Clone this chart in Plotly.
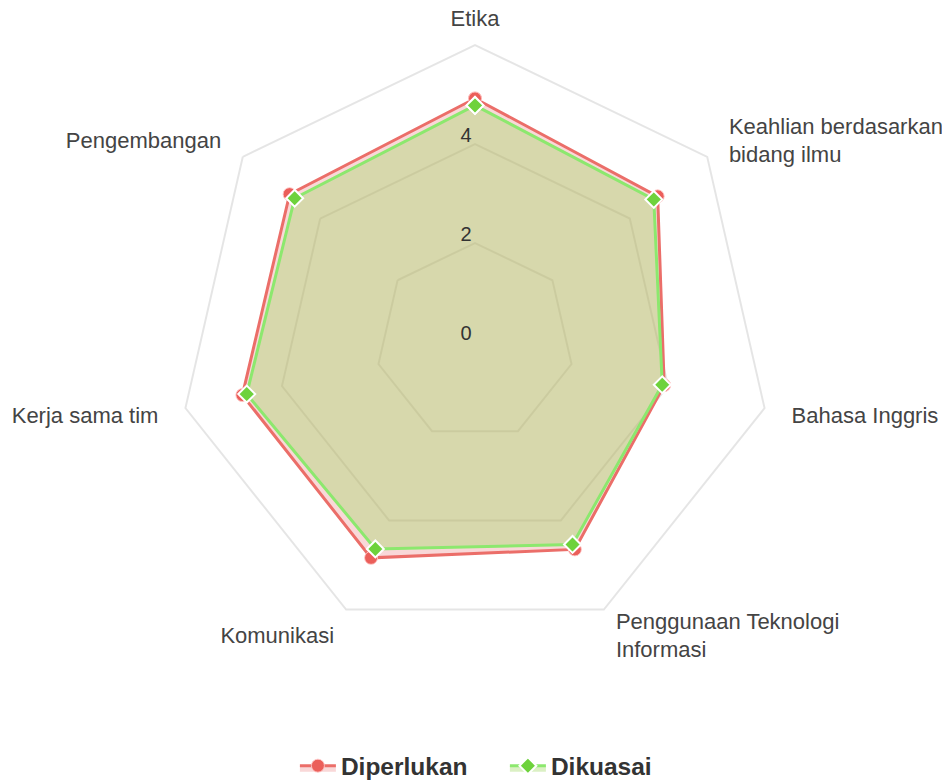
import plotly.graph_objects as go

categories = ["Etika", "Keahlian berdasarkan<br>bidang ilmu", "Bahasa Inggris",
              "Penggunaan Teknologi<br>Informasi", "Komunikasi", "Kerja sama tim", "Pengembangan"]
diperlukan = [4.92, 4.72, 3.92, 4.65, 4.84, 4.82, 4.79]
dikuasai = [4.78, 4.62, 3.88, 4.54, 4.64, 4.73, 4.66]
radial_ticks = [0, 2, 4]
grid_rings = [2, 4, 6]
radial_max = 6

# style: category labels sit just outside the outer ring, aligned away from the centre
label_r = 6.56
axis_max = 6.6
label_pos = ["middle center", "middle right", "middle right", "middle right",
             "middle left", "middle left", "middle left"]
# tick labels sit a little above their grid ring (style offset, in axis units)
label_lift = 0.23
label_drop_px = 3   # text overlay nudged down a few pixels

def closed(v):
    return v + v[:1]

fig = go.Figure()
fig.add_trace(go.Scatterpolar(
    r=closed(diperlukan), theta=closed(categories), name="Diperlukan",
    mode="lines+markers", fill="toself",
    fillcolor="rgba(232,100,100,0.25)",
    line=dict(color="rgb(235,110,105)", width=3),
    marker=dict(symbol="circle", size=13, color="rgb(235,95,90)",
                line=dict(color="rgba(255,200,200,0.9)", width=1)),
))
fig.add_trace(go.Scatterpolar(
    r=closed(dikuasai), theta=closed(categories), name="Dikuasai",
    mode="lines+markers", fill="toself",
    fillcolor="rgba(160,215,100,0.38)",
    line=dict(color="rgb(140,232,110)", width=3),
    marker=dict(symbol="diamond", size=13, color="rgb(110,210,60)",
                line=dict(color="white", width=2)),
))
# category labels, placed through the overlay polar scale just outside the outer ring
fig.add_trace(go.Scatterpolar(
    r=[label_r] * len(categories), theta=categories, mode="text", subplot="polar2",
    text=categories, textposition=label_pos, cliponaxis=False,
    textfont=dict(size=22, color="#444", family="Liberation Sans, Arial, sans-serif"),
    showlegend=False, hoverinfo="skip",
))

W, H = 950, 782
cx, cy = 467, 334
ring_px = 297                      # outer ring radius in pixels
rad = ring_px * axis_max / radial_max
dom = dict(x=[(cx - rad) / W, (cx + rad) / W], y=[(H - cy - rad) / H, (H - cy + rad) / H])
dom2 = dict(x=dom["x"], y=[v - label_drop_px / H for v in dom["y"]])

fig.update_layout(
    width=W, height=H,
    margin=dict(l=0, r=0, t=0, b=0),
    paper_bgcolor="white",
    font=dict(family="Liberation Sans, Arial, sans-serif", color="#444"),
    polar=dict(
        domain=dom,
        bgcolor="rgba(0,0,0,0)",
        gridshape="linear",
        angularaxis=dict(
            rotation=90, direction="clockwise",
            showgrid=False, showline=False,
            ticks="", showticklabels=False,
            layer="below traces",
        ),
        radialaxis=dict(
            range=[0, axis_max], angle=90,
            tickvals=grid_rings, showticklabels=False,
            showline=False, ticks="",
            gridcolor="rgba(0,0,0,0.1)", gridwidth=1.5,
            layer="below traces",
        ),
    ),
    polar2=dict(
        domain=dom2,
        bgcolor="rgba(0,0,0,0)",
        gridshape="linear",
        angularaxis=dict(visible=False, rotation=90, direction="clockwise"),
        radialaxis=dict(
            range=[0, axis_max], angle=90, tickangle=90, side="counterclockwise",
            tickvals=[t + label_lift for t in radial_ticks],
            ticktext=[str(t) for t in radial_ticks],
            showline=False, showgrid=False, ticks="",
            tickfont=dict(size=20, color="#333"),
        ),
    ),
    legend=dict(
        orientation="h", x=0.302, xanchor="left", y=0.031, yanchor="middle",
        font=dict(size=24.5, color="#333", family="Liberation Sans, Arial, sans-serif", weight="bold"),
        itemwidth=36, entrywidth=159, entrywidthmode="pixels",
    ),
)

fig.write_html("out.html")
